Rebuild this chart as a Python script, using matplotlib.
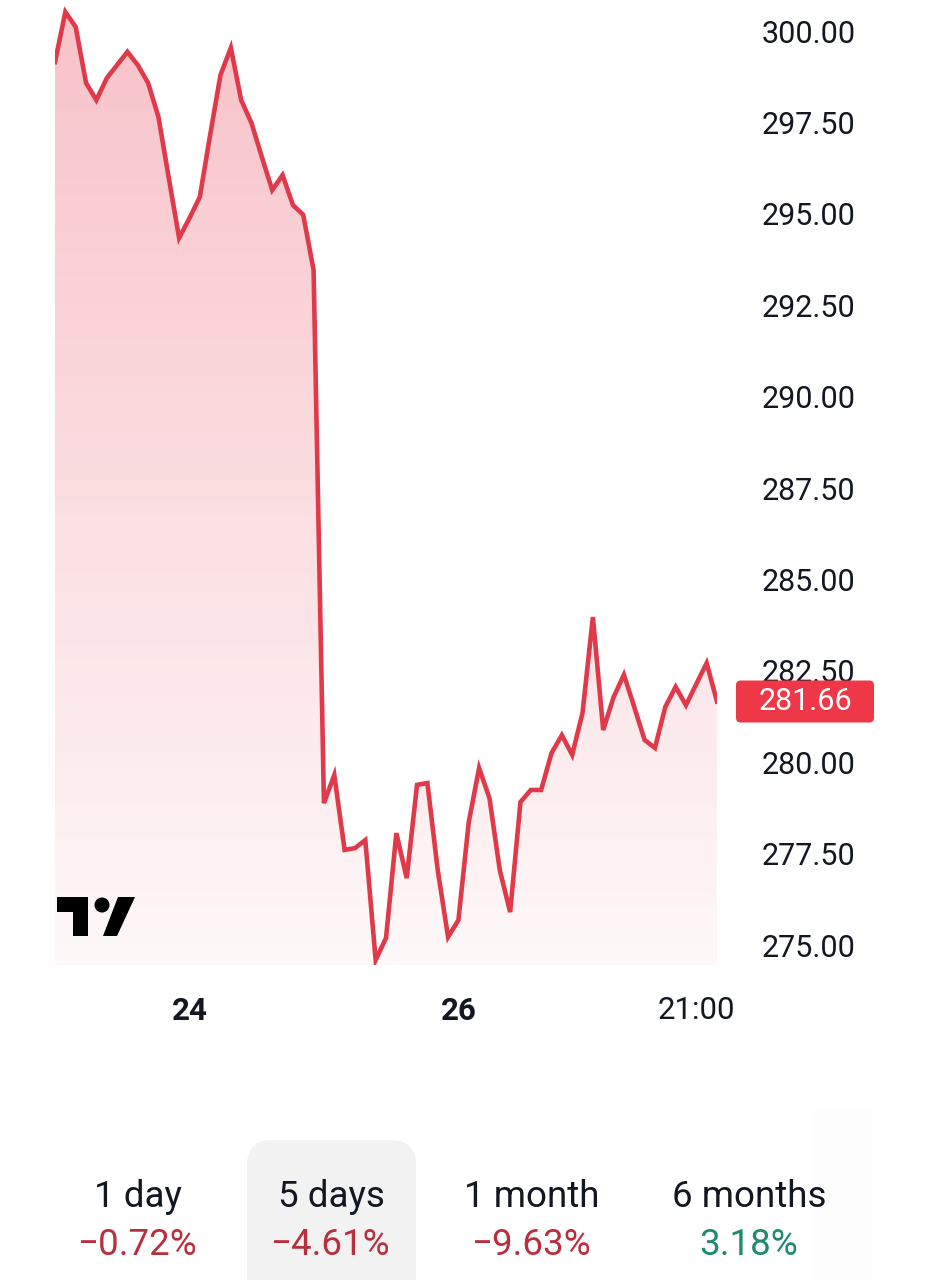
import numpy as np
import matplotlib
matplotlib.use("Agg")
import matplotlib.pyplot as plt
from matplotlib.patches import FancyBboxPatch, Rectangle, Circle, Polygon
from matplotlib.transforms import blended_transform_factory

plt.rcParams['font.family'] = ['Roboto', 'DejaVu Sans']

# ---------------- data ----------------
prices = [299.15, 300.52, 300.11, 298.58, 298.11, 298.71, 299.07, 299.43, 299.07, 298.58,
          297.65, 295.98, 294.34, 294.88, 295.46, 297.16, 298.80, 299.54, 298.11, 297.48,
          296.55, 295.65, 296.06, 295.24, 294.97, 293.46, 278.88, 279.65, 277.60, 277.65,
          277.87, 274.59, 275.19, 278.06, 276.83, 279.38, 279.43, 277.05, 275.22, 275.68,
          278.36, 279.84, 279.02, 277.05, 275.90, 278.91, 279.24, 279.24, 280.25, 280.74,
          280.20, 281.35, 283.97, 280.88, 281.78, 282.39, 281.51, 280.61, 280.39, 281.51,
          282.06, 281.56, 282.14, 282.71, 281.66]
last_price = 281.66
y_ticks = [275.0, 277.5, 280.0, 282.5, 285.0, 287.5, 290.0, 292.5, 295.0, 297.5, 300.0]
x_tick_pos = [13, 39, 62]
x_tick_labels = ['24', '26', '21:00']
x_tick_bold = [True, True, False]
periods = ['1 day', '5 days', '1 month', '6 months']
changes = [-0.72, -4.61, -9.63, 3.18]

RED = '#e0394a'
TXT = '#131722'

W, H = 939, 1280
fig = plt.figure(figsize=(W / 100, H / 100), dpi=100)
fig.patch.set_facecolor('white')

# axes pixel box
left_px, right_px, top_px, bot_px = 55, 717, 0, 965
ax = fig.add_axes([left_px / W, 1 - bot_px / H, (right_px - left_px) / W, (bot_px - top_px) / H])
ax.set_facecolor('none')
x = np.arange(len(prices))
ymin, ymax = 274.453, 300.848

# gradient fill under line
poly = ax.fill_between(x, prices, ymin, color='none', lw=0)
grad = np.linspace(0, 1, 256).reshape(-1, 1)
top_c = np.array([248, 194, 200]) / 255
bot_c = np.array([254, 248, 249]) / 255
img = top_c * (1 - grad[..., None]) + bot_c * grad[..., None]
img = img.reshape(256, 1, 3)
im = ax.imshow(img, extent=[0, len(prices) - 1, ymin, ymax], origin='upper',
               aspect='auto', zorder=1)
im.set_clip_path(poly.get_paths()[0], transform=ax.transData)
ax.set_xlim(0, len(prices) - 1)
ax.set_ylim(ymin, ymax)

ax.plot(x, prices, color=RED, lw=3.3, solid_joinstyle='miter', zorder=3)

for s in ax.spines.values():
    s.set_visible(False)

ax.yaxis.tick_right()
ax.set_yticks(y_ticks)
ax.set_yticklabels([f'{v:.2f}' for v in y_ticks], fontsize=22, color=TXT)
ax.tick_params(axis='y', length=0, pad=32)

ax.set_xticks(x_tick_pos)
ax.set_xticklabels(x_tick_labels, fontsize=22.5, color=TXT)
ax.tick_params(axis='x', length=0, pad=22)
for lab, b in zip(ax.get_xticklabels(), x_tick_bold):
    lab.set_fontweight('bold' if b else 'normal')

# last price box
bt = blended_transform_factory(ax.transAxes, ax.transData)
bx0 = (736 - left_px) / (right_px - left_px)
bx1 = (874 - left_px) / (right_px - left_px)
hh = 21 / 36.56
box = FancyBboxPatch((bx0, last_price - hh), bx1 - bx0, 2 * hh,
                     boxstyle='round,pad=0,rounding_size=0.007', mutation_aspect=18,
                     transform=bt, facecolor='#ee3848', edgecolor='none', clip_on=False, zorder=5)
ax.add_patch(box)
ax.text((bx0 + bx1) / 2, last_price, f'{last_price:.2f}', transform=bt, ha='center', va='center',
        fontsize=22, color='white', zorder=6, clip_on=False)

# TradingView-like logo (pixel coords -> inches)
inch = fig.dpi_scale_trans
def P(xp, yp):
    return (xp / 100, (H - yp) / 100)
logo = [
    Polygon([P(57, 897), P(88, 897), P(88, 936), P(73, 936), P(73, 912), P(57, 912)], closed=True),
    Circle(P(102, 905), 0.075),
    Polygon([P(118, 897), P(135, 897), P(117, 936), P(103, 936)], closed=True),
]
for p in logo:
    p.set_transform(inch)
    p.set_facecolor('#000000')
    p.set_edgecolor('none')
    fig.patches.append(p)

# bottom period selector
sel = FancyBboxPatch((2.47, -0.3), 1.69, 1.70, boxstyle='round,pad=0,rounding_size=0.25',
                     transform=inch, facecolor='#f2f2f2', edgecolor='none')
fig.patches.append(sel)
strip = Rectangle((8.15, 0), 0.57, 1.70, transform=inch, facecolor='#fdfdfd', edgecolor='none')
fig.patches.append(strip)

centers = [138, 331, 532, 749]
for cx, per, ch in zip(centers, periods, changes):
    fig.text(cx / W, 1 - 1197 / H, per, ha='center', va='center', fontsize=26.5, color=TXT)
    col = '#b8303d' if ch < 0 else '#1e8a6f'
    s = f'\u2212{abs(ch):.2f}%' if ch < 0 else f'{ch:.2f}%'
    fig.text(cx / W, 1 - 1245 / H, s, ha='center', va='center', fontsize=26.5, color=col)

fig.savefig('out.png', dpi=100, facecolor='white')
